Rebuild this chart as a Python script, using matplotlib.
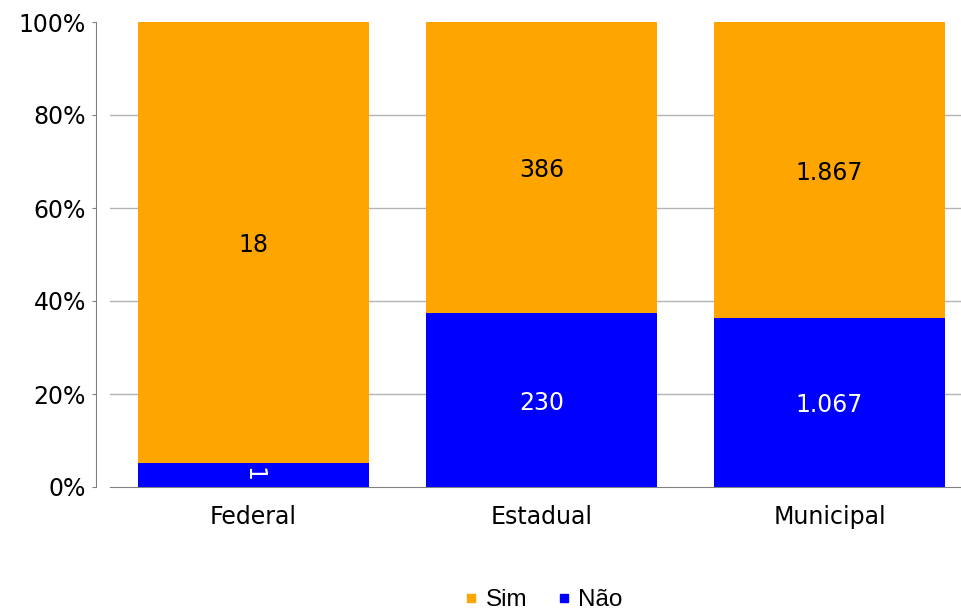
import numpy as np
import matplotlib
matplotlib.use("Agg")
import matplotlib.pyplot as plt
from matplotlib.lines import Line2D

# data
categories = ["Federal", "Estadual", "Municipal"]
nao = [1, 230, 1067]
sim = [18, 386, 1867]
nao_labels = ["1", "230", "1.067"]
sim_labels = ["18", "386", "1.867"]

orange = "#FFA500"
blue = "#0000FF"

nao_arr = np.array(nao, dtype=float)
sim_arr = np.array(sim, dtype=float)
total = nao_arr + sim_arr
nao_pct = nao_arr / total
sim_pct = sim_arr / total

W, H = 961, 612
fig = plt.figure(figsize=(W / 100, H / 100), dpi=100)
ax = fig.add_axes([109.5 / W, 1 - 487 / H, 864 / W, 465 / H])

x = np.arange(len(categories))
ax.bar(x, nao_pct, width=0.8, color=blue, zorder=3)
ax.bar(x, sim_pct, width=0.8, bottom=nao_pct, color=orange, zorder=3)

# value labels in the middle of each segment (tiny segment gets rotated text)
for i in range(len(categories)):
    if nao_pct[i] < 0.08:
        ax.annotate(nao_labels[i], (x[i], nao_pct[i] / 2), color="white",
                    fontsize=17, ha="center", va="center", rotation=-90,
                    zorder=4)
    else:
        ax.annotate(nao_labels[i], (x[i], nao_pct[i] / 2), xytext=(0, -2),
                    textcoords="offset points", color="white", fontsize=17,
                    ha="center", va="center", zorder=4)
    ax.annotate(sim_labels[i], (x[i], nao_pct[i] + sim_pct[i] / 2),
                xytext=(0, -2), textcoords="offset points", color="black",
                fontsize=17, ha="center", va="center", zorder=4)

yticks = [0, 0.2, 0.4, 0.6, 0.8, 1.0]
ax.set_xlim(-0.5, 2.5)
ax.set_ylim(0, 1)
ax.set_yticks(yticks)
ax.set_yticklabels([f"{int(round(v * 100))}%" for v in yticks])
ax.set_xticks(x)
ax.set_xticklabels(categories)
ax.tick_params(axis="y", labelsize=17, length=3, color="#808080", pad=4)
ax.tick_params(axis="x", labelsize=17, length=0, pad=13)

# grid lines only between 0 and 100
for v in yticks[1:-1]:
    ax.axhline(v, color="#b3b3b3", linewidth=1, zorder=0)

for s in ["top", "right"]:
    ax.spines[s].set_visible(False)
ax.spines["left"].set_position(("outward", 10))
ax.spines["left"].set_color("#808080")
ax.spines["bottom"].set_color("#808080")

handles = [Line2D([], [], marker="s", linestyle="none", markersize=6,
                  markerfacecolor=orange, markeredgecolor=orange),
           Line2D([], [], marker="s", linestyle="none", markersize=6,
                  markerfacecolor=blue, markeredgecolor=blue)]
fig.legend(handles, ["Sim", "Não"], loc="center", ncol=2, frameon=False,
           bbox_to_anchor=(544 / W, 1 - 600 / H),
           prop={"family": "Liberation Sans", "size": 17.5},
           handlelength=0.5, handletextpad=0.33, columnspacing=1.27)

fig.savefig("out.png", dpi=100)
